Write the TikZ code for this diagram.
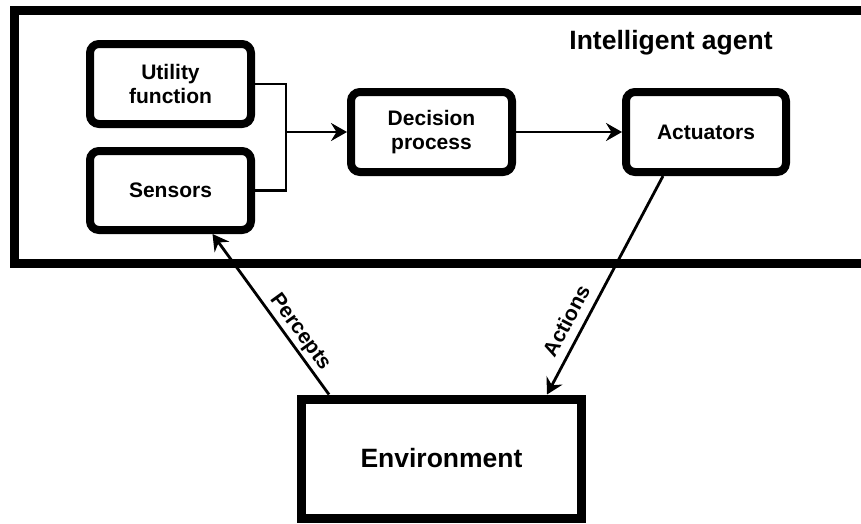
\documentclass[tikz,border=0pt]{standalone}
\usepackage{fontspec}
\setmainfont{Liberation Sans}
\usetikzlibrary{arrows.meta}
\begin{document}
\begin{tikzpicture}[x=1pt,y=-1pt,
  blk/.style={draw, line width=8pt, rounded corners=9pt, minimum width=161pt,
    minimum height=80pt, align=center, inner sep=0pt,
    font=\fontsize{21}{24.5}\selectfont\bfseries},
  bigbox/.style={draw, line width=9pt, inner sep=0pt},
  link/.style={line width=2.8pt},
  arr/.style={link, -{Stealth[length=16pt,width=18pt,inset=5.5pt]}},
  tag/.style={font=\fontsize{21}{24}\selectfont\bfseries, sloped, inner sep=1pt}
]
\useasboundingbox (0,0) rectangle (861,523);
\clip (0,0) rectangle (861,523);

% agent frame and its title
\node[bigbox, minimum width=866pt, minimum height=253pt] (agent) at (447,137) {};
\node[font=\fontsize{26.5}{30}\selectfont\bfseries, anchor=base] (title) at (671,49) {Intelligent agent};

% inner blocks
\node[blk] (util) at (170.5,84) {Utility\\function};
\node[blk, minimum height=79pt] (sens) at (170.5,190.5) {Sensors};
\node[blk] (dec) at (431.5,132) {Decision\\process};
\node[blk, minimum width=160pt] (act) at (706,132) {Actuators};

% environment
\node[bigbox, minimum width=280pt, minimum height=119pt,
  font=\fontsize{26.5}{30}\selectfont\bfseries] (env) at (441.5,458.5) {\raisebox{-2pt}{Environment}};

% connectors
\coordinate (j) at (286,132);
\draw[link] (util.east) -| (j) |- (sens.east);
\draw[arr] (j) -- (dec.west);
\draw[arr] (dec.east) -- (act.west);
\draw[arr] ([xshift=32pt]env.north west) -- node[tag, pos=0.34, above=1pt] {Percepts} ([xshift=42pt]sens.south);
\draw[arr] ([xshift=-43pt]act.south) -- node[tag, pos=0.70, above=7.6pt] {Actions} ([xshift=105.5pt]env.north);
\end{tikzpicture}
\end{document}
